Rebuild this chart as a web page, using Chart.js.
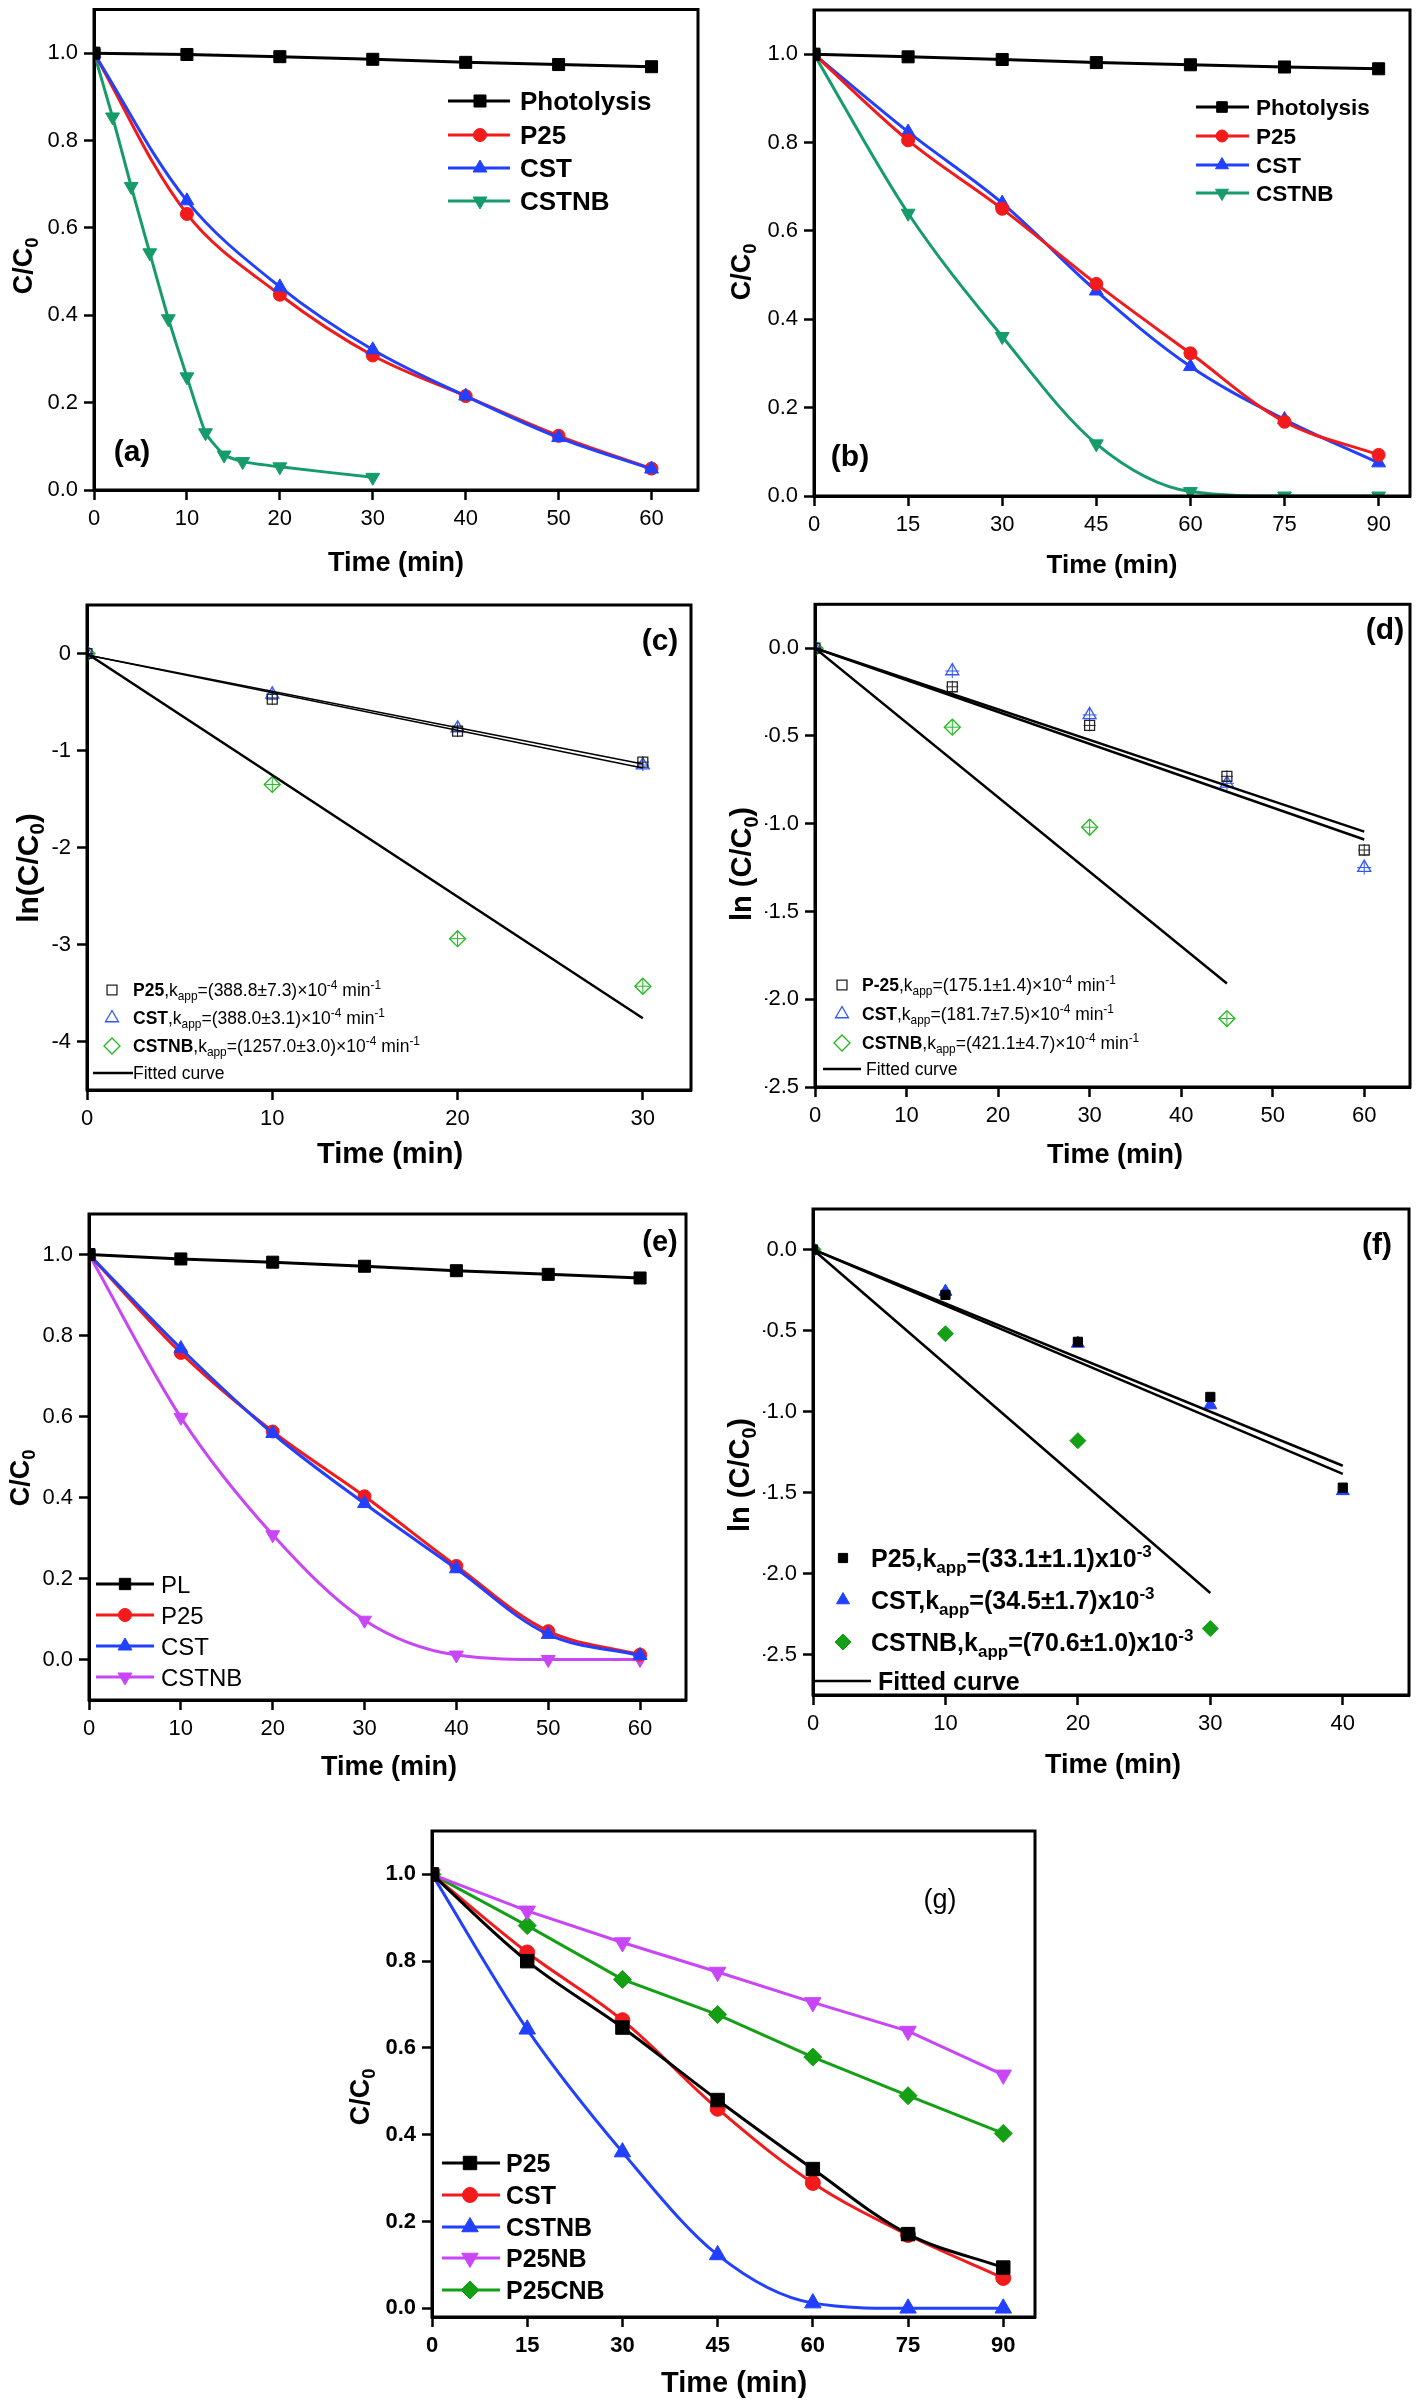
<!DOCTYPE html>
<html>
<head>
<meta charset="utf-8">
<script src="https://cdn.jsdelivr.net/npm/chart.js@4.4.1/dist/chart.umd.min.js"></script>
<style>
  body { margin: 0; background: #fff; width: 1421px; height: 2401px; position: relative; overflow: hidden; }
  canvas { position: absolute; }
</style>
</head>
<body>
<canvas id="pa"></canvas>
<canvas id="pb"></canvas>
<canvas id="pc"></canvas>
<canvas id="pd"></canvas>
<canvas id="pe"></canvas>
<canvas id="pf"></canvas>
<canvas id="pg"></canvas>
<script>
// ---------- data ----------
// (a)
const timeA = [0, 10, 20, 30, 40, 50, 60];
const photolysisA = [1.0, 0.997, 0.992, 0.986, 0.979, 0.974, 0.969];
const p25A = [1.0, 0.632, 0.447, 0.308, 0.215, 0.124, 0.049];
const cstA = [1.0, 0.662, 0.465, 0.321, 0.215, 0.120, 0.048];
const timeNbA = [0, 2, 4, 6, 8, 10, 12, 14, 16, 20, 30];
const cstnbA = [1.0, 0.854, 0.695, 0.543, 0.392, 0.259, 0.131, 0.080, 0.065, 0.053, 0.029];
// (b)
const timeB = [0, 15, 30, 45, 60, 75, 90];
const photolysisB = [1.0, 0.994, 0.988, 0.981, 0.976, 0.971, 0.967];
const p25B = [1.0, 0.805, 0.650, 0.480, 0.323, 0.168, 0.093];
const cstB = [1.0, 0.824, 0.663, 0.464, 0.293, 0.173, 0.075];
const cstnbB = [1.0, 0.640, 0.361, 0.118, 0.010, 0.0, 0.0];
// (c)
const timeC = [0, 10, 20, 30];
const p25C = [0, -0.47, -0.80, -1.12];
const cstC = [0, -0.42, -0.77, -1.15];
const cstnbC = [0, -1.35, -2.94, -3.43];
const fitTimeC = [0, 30];
const fitP25C = [-0.015, -1.14];
const fitCstC = [-0.015, -1.18];
const fitCstnbC = [0, -3.76];
// (d)
const timeD = [0, 15, 30, 45, 60];
const p25D = [0, -0.22, -0.44, -0.73, -1.15];
const cstD = [0, -0.13, -0.38, -0.77, -1.25];
const timeNbD = [0, 15, 30, 45];
const cstnbD = [0, -0.45, -1.02, -2.11];
const fitTimeD = [0, 60];
const fitP25D = [0, -1.045];
const fitCstD = [0, -1.09];
const fitTimeNbD = [0, 45];
const fitCstnbD = [0, -1.91];
// (e)
const timeE = [0, 10, 20, 30, 40, 50, 60];
const plE = [1.0, 0.989, 0.981, 0.971, 0.960, 0.951, 0.942];
const p25E = [1.0, 0.757, 0.563, 0.403, 0.231, 0.070, 0.012];
const cstE = [1.0, 0.768, 0.558, 0.385, 0.224, 0.062, 0.010];
const cstnbE = [1.0, 0.598, 0.308, 0.097, 0.011, 0.0, 0.0];
// (f)
const timeF = [0, 10, 20, 30, 40];
const p25F = [0, -0.28, -0.57, -0.91, -1.47];
const cstF = [0, -0.26, -0.58, -0.96, -1.49];
const timeNbF = [0, 10, 20, 30];
const cstnbF = [0, -0.52, -1.18, -2.34];
const fitTimeF = [0, 40];
const fitP25F = [0, -1.335];
const fitCstF = [0, -1.385];
const fitTimeNbF = [0, 30];
const fitCstnbF = [0, -2.12];
// (g)
const timeG = [0, 15, 30, 45, 60, 75, 90];
const p25G = [1.0, 0.800, 0.647, 0.480, 0.321, 0.171, 0.094];
const cstG = [1.0, 0.820, 0.664, 0.460, 0.289, 0.169, 0.070];
const cstnbG = [1.0, 0.643, 0.360, 0.123, 0.012, 0.0, 0.0];
const p25nbG = [1.0, 0.916, 0.843, 0.775, 0.705, 0.639, 0.538];
const p25cnbG = [1.0, 0.882, 0.758, 0.677, 0.579, 0.490, 0.403];

// tick labels
const ticksX60 = [0, 10, 20, 30, 40, 50, 60];
const ticksX90 = [0, 15, 30, 45, 60, 75, 90];
const ticksX30 = [0, 10, 20, 30];
const ticksX40 = [0, 10, 20, 30, 40];
const ticksRatio = [0, 0.2, 0.4, 0.6, 0.8, 1.0];
const ticksLnC = [0, -1, -2, -3, -4];
const ticksLnHalf = [0, -0.5, -1.0, -1.5, -2.0, -2.5];

// ---------- styling ----------
const FONT = "'Liberation Sans', Arial, Helvetica, sans-serif";
const RED = '#f21a1a';
const BLUE = '#2140ff';
const TEAL = '#169b6b';
const VIOLET = '#c846f5';
const GREEN = '#14a014';
const OPEN_GREEN = '#22b822';
const OPEN_BLUE = '#3355ff';
const CLEAR = 'rgba(0,0,0,0)';

function pts(xs, ys) {
    return xs.map((x, i) => ({ x: x, y: ys[i] }));
}

function curve(xs, ys, color, style, r, extra) {
    return Object.assign({
        data: pts(xs, ys),
        borderColor: color,
        backgroundColor: color,
        pointStyle: style,
        pointRadius: r,
        pointRotation: 0,
        pointBackgroundColor: color,
        pointBorderColor: color,
        pointBorderWidth: 1,
        borderWidth: 3,
        tension: 0
    }, extra || {});
}

const SMOOTH = { tension: 0.35 };
const MONO = { cubicInterpolationMode: 'monotone' };
const DOWN = { pointRotation: 180 };
const OPEN = { showLine: false, pointBackgroundColor: CLEAR, pointBorderWidth: 1.3 };

// thin cross drawn over the open symbols, like the error bars in (c) and (d)
function crossMarks(xs, ys, color, r) {
    return curve(xs, ys, color, 'cross', r, { showLine: false, pointBorderWidth: 1 });
}

function fitLine(xs, ys, w) {
    return curve(xs, ys, '#000', 'circle', 0, { borderWidth: w || 2.5 });
}

// rich text: segments of [text, flags]; b = bold, _ = subscript, ^ = superscript
function segFont(f, size) {
    const small = f.indexOf('_') >= 0 || f.indexOf('^') >= 0;
    const sz = small ? size * 0.68 : size;
    return (f.indexOf('b') >= 0 ? 'bold ' : '') + sz.toFixed(1) + 'px ' + FONT;
}

function drawRich(ctx, segs, x, cy, size, align) {
    let w = 0;
    segs.forEach(s => { ctx.font = segFont(s[1] || '', size); w += ctx.measureText(s[0]).width; });
    let cx = align === 'left' ? x : x - w / 2;
    const base = cy + size * 0.36;
    ctx.textAlign = 'left';
    ctx.textBaseline = 'alphabetic';
    segs.forEach(s => {
        const f = s[1] || '';
        ctx.font = segFont(f, size);
        let dy = 0;
        if (f.indexOf('_') >= 0) dy = size * 0.22;
        if (f.indexOf('^') >= 0) dy = -size * 0.4;
        ctx.fillText(s[0], cx, base + dy);
        cx += ctx.measureText(s[0]).width;
    });
}

function drawMarker(ctx, it, x, y) {
    ctx.save();
    ctx.strokeStyle = it.color;
    ctx.fillStyle = it.open ? CLEAR : it.color;
    ctx.lineWidth = it.open ? 1.3 : 1;
    Chart.helpers.drawPoint(ctx, { pointStyle: it.ps, rotation: it.rot || 0, radius: it.r, borderWidth: ctx.lineWidth }, x, y);
    ctx.restore();
}

// frame, titles, panel letter and legend
function decoPlugin(box, spec) {
    return {
        id: 'deco',
        afterDatasetsDraw(chart) {
            const ctx = chart.ctx;
            const a = chart.chartArea;
            ctx.save();
            ctx.strokeStyle = '#000';
            ctx.lineWidth = 3;
            ctx.strokeRect(a.left, a.top, a.right - a.left, a.bottom - a.top);
            ctx.fillStyle = '#000';

            spec.texts.forEach(t => {
                if (t.rot) {
                    ctx.save();
                    ctx.translate(t.x - box.x, t.y - box.y);
                    ctx.rotate(-Math.PI / 2);
                    drawRich(ctx, t.segs, 0, 0, t.size, 'center');
                    ctx.restore();
                } else {
                    drawRich(ctx, t.segs, t.x - box.x, t.y - box.y, t.size, 'center');
                }
            });

            const lg = spec.legend;
            lg.items.forEach((it, i) => {
                const y = lg.ys[i] - box.y;
                if (it.line) {
                    ctx.strokeStyle = it.color;
                    ctx.lineWidth = it.lw || 3;
                    ctx.beginPath();
                    ctx.moveTo(lg.x0 - box.x, y);
                    ctx.lineTo(lg.x1 - box.x, y);
                    ctx.stroke();
                }
                if (it.ps) drawMarker(ctx, it, lg.mx - box.x, y);
                ctx.fillStyle = '#000';
                drawRich(ctx, it.segs, (it.tx || lg.tx) - box.x, y, lg.size, 'left');
            });
            ctx.restore();
        }
    };
}

function makePanel(id, box, frame, xr, yr, xTicks, yTicks, yDec, tickBold, datasets, spec) {
    const cv = document.getElementById(id);
    cv.width = box.w;
    cv.height = box.h;
    cv.style.left = box.x + 'px';
    cv.style.top = box.y + 'px';
    const yw = 50, xh = 45;
    const tickFont = { family: FONT, size: 22, weight: tickBold ? 'bold' : 'normal' };
    const grid = { display: true, drawOnChartArea: false, drawTicks: true, tickLength: 10, tickWidth: 2.5, tickColor: '#000' };
    const border = { display: true, color: '#000', width: 3 };

    return new Chart(cv, {
        type: 'line',
        data: { datasets: datasets },
        options: {
            responsive: false,
            animation: false,
            devicePixelRatio: 1,
            events: [],
            layout: {
                padding: {
                    left: frame.L - box.x - yw,
                    top: frame.T - box.y,
                    right: box.x + box.w - frame.R,
                    bottom: box.y + box.h - frame.B - xh
                }
            },
            plugins: { legend: { display: false }, tooltip: { enabled: false } },
            scales: {
                x: {
                    type: 'linear', min: xr[0], max: xr[1],
                    afterBuildTicks: s => { s.ticks = xTicks.map(v => ({ value: v })); },
                    afterFit: s => { s.height = xh; s.paddingLeft = 0; s.paddingRight = 0; },
                    ticks: { autoSkip: false, maxRotation: 0, padding: 6, color: '#000', font: tickFont, callback: v => String(v) },
                    grid: grid, border: border
                },
                y: {
                    type: 'linear', min: yr[0], max: yr[1],
                    afterBuildTicks: s => { s.ticks = yTicks.map(v => ({ value: v })); },
                    afterFit: s => { s.width = yw; s.paddingTop = 0; s.paddingBottom = 0; },
                    ticks: { autoSkip: false, padding: 6, color: '#000', font: tickFont, callback: v => Number(v).toFixed(yDec) },
                    grid: grid, border: border
                }
            }
        },
        plugins: [decoPlugin(box, spec)]
    });
}

const C_TITLE = [['C/C', 'b'], ['0', 'b_']];
const TIME_TITLE = [['Time (min)', 'b']];
const LN_TITLE = [['ln(C/C', 'b'], ['0', 'b_'], [')', 'b']];
const LN_SP_TITLE = [['ln (C/C', 'b'], ['0', 'b_'], [')', 'b']];

function kLabel(name, val) {
    return [[name, 'b'], [',k'], ['app', '_'], ['=' + val + '\u00d710'], ['-4', '^'], [' min'], ['-1', '^']];
}
function kBold(name, val) {
    return [[name + ',k', 'b'], ['app', 'b_'], ['=' + val + 'x10', 'b'], ['-3', 'b^']];
}

// ---------- (a) ----------
makePanel('pa', { x: 0, y: 0, w: 710, h: 595 }, { L: 94, T: 5, R: 698, B: 490 },
    [0, 65], [0, 1.1], ticksX60, ticksRatio, 1, false,
    [
        curve(timeA, photolysisA, '#000', 'rect', 8.5),
        curve(timeA, cstA, BLUE, 'triangle', 8, SMOOTH),
        curve(timeA, p25A, RED, 'circle', 6.5, SMOOTH),
        curve(timeNbA, cstnbA, TEAL, 'triangle', 8, Object.assign({ tension: 0.15 }, DOWN))
    ],
    {
        texts: [
            { segs: C_TITLE, x: 22, y: 266, size: 27, rot: true },
            { segs: TIME_TITLE, x: 396, y: 561, size: 27 },
            { segs: [['(a)', 'b']], x: 132, y: 450, size: 30 }
        ],
        legend: {
            x0: 448, x1: 510, mx: 480, tx: 520, ys: [101, 135, 168, 201], size: 26,
            items: [
                { segs: [['Photolysis', 'b']], color: '#000', ps: 'rect', r: 8.5, line: true },
                { segs: [['P25', 'b']], color: RED, ps: 'circle', r: 6.5, line: true },
                { segs: [['CST', 'b']], color: BLUE, ps: 'triangle', r: 8, line: true },
                { segs: [['CSTNB', 'b']], color: TEAL, ps: 'triangle', r: 8, rot: 180, line: true }
            ]
        }
    });

// ---------- (b) ----------
makePanel('pb', { x: 710, y: 0, w: 711, h: 595 }, { L: 814, T: 10, R: 1410, B: 496 },
    [0, 95], [0, 1.1], ticksX90, ticksRatio, 1, false,
    [
        curve(timeB, photolysisB, '#000', 'rect', 8.5),
        curve(timeB, p25B, RED, 'circle', 6.5, SMOOTH),
        curve(timeB, cstB, BLUE, 'triangle', 8, SMOOTH),
        curve(timeB, cstnbB, TEAL, 'triangle', 8, Object.assign({}, MONO, DOWN))
    ],
    {
        texts: [
            { segs: C_TITLE, x: 740, y: 272, size: 27, rot: true },
            { segs: TIME_TITLE, x: 1112, y: 564, size: 26 },
            { segs: [['(b)', 'b']], x: 850, y: 455, size: 30 }
        ],
        legend: {
            x0: 1196, x1: 1249, mx: 1222, tx: 1256, ys: [107, 136, 165, 193], size: 22.5,
            items: [
                { segs: [['Photolysis', 'b']], color: '#000', ps: 'rect', r: 7.5, line: true },
                { segs: [['P25', 'b']], color: RED, ps: 'circle', r: 6, line: true },
                { segs: [['CST', 'b']], color: BLUE, ps: 'triangle', r: 7.5, line: true },
                { segs: [['CSTNB', 'b']], color: TEAL, ps: 'triangle', r: 7.5, rot: 180, line: true }
            ]
        }
    });

// ---------- (c) ----------
makePanel('pc', { x: 0, y: 595, w: 710, h: 590 }, { L: 87, T: 605, R: 691, B: 1090 },
    [0, 32.6], [-4.5, 0.5], ticksX30, ticksLnC, 0, false,
    [
        fitLine(fitTimeC, fitP25C, 1.6),
        fitLine(fitTimeC, fitCstC, 1.6),
        fitLine(fitTimeC, fitCstnbC, 2.5),
        curve(timeC, p25C, '#222', 'rect', 7, OPEN),
        crossMarks(timeC, p25C, '#222', 6),
        curve(timeC, cstC, OPEN_BLUE, 'triangle', 7.5, OPEN),
        crossMarks(timeC, cstC, OPEN_BLUE, 6),
        curve(timeC, cstnbC, OPEN_GREEN, 'rectRot', 8, OPEN),
        crossMarks(timeC, cstnbC, OPEN_GREEN, 7)
    ],
    {
        texts: [
            { segs: LN_TITLE, x: 27, y: 868, size: 30, rot: true },
            { segs: TIME_TITLE, x: 390, y: 1153, size: 29 },
            { segs: [['(c)', 'b']], x: 660, y: 639, size: 30 }
        ],
        legend: {
            x0: 93, x1: 133, mx: 112, tx: 133, ys: [990, 1018, 1046, 1073], size: 17.5,
            items: [
                { segs: kLabel('P25', '(388.8\u00b17.3)'), color: '#222', ps: 'rect', r: 7, open: true },
                { segs: kLabel('CST', '(388.0\u00b13.1)'), color: OPEN_BLUE, ps: 'triangle', r: 7.5, open: true },
                { segs: kLabel('CSTNB', '(1257.0\u00b13.0)'), color: OPEN_GREEN, ps: 'rectRot', r: 8, open: true },
                { segs: [['Fitted curve']], color: '#000', line: true, lw: 2.5 }
            ]
        }
    });

// ---------- (d) ----------
makePanel('pd', { x: 710, y: 595, w: 711, h: 590 }, { L: 815, T: 600, R: 1410, B: 1087 },
    [0, 65], [-2.5, 0.25], ticksX60, ticksLnHalf, 1, false,
    [
        fitLine(fitTimeD, fitP25D),
        fitLine(fitTimeD, fitCstD),
        fitLine(fitTimeNbD, fitCstnbD),
        curve(timeD, p25D, '#222', 'rect', 7, OPEN),
        crossMarks(timeD, p25D, '#222', 6),
        curve(timeD, cstD, OPEN_BLUE, 'triangle', 7.5, OPEN),
        crossMarks(timeD, cstD, OPEN_BLUE, 7),
        curve(timeNbD, cstnbD, OPEN_GREEN, 'rectRot', 8, OPEN),
        crossMarks(timeNbD, cstnbD, OPEN_GREEN, 7)
    ],
    {
        texts: [
            { segs: LN_SP_TITLE, x: 741, y: 864, size: 29, rot: true },
            { segs: TIME_TITLE, x: 1115, y: 1153, size: 27 },
            { segs: [['(d)', 'b']], x: 1385, y: 628, size: 30 }
        ],
        legend: {
            x0: 823, x1: 861, mx: 842, tx: 862, ys: [985, 1014, 1043, 1069], size: 17.5,
            items: [
                { segs: kLabel('P-25', '(175.1\u00b11.4)'), color: '#222', ps: 'rect', r: 7, open: true },
                { segs: kLabel('CST', '(181.7\u00b17.5)'), color: OPEN_BLUE, ps: 'triangle', r: 7.5, open: true },
                { segs: kLabel('CSTNB', '(421.1\u00b14.7)'), color: OPEN_GREEN, ps: 'rectRot', r: 8, open: true },
                { segs: [['Fitted curve']], color: '#000', line: true, lw: 2.5, tx: 866 }
            ]
        }
    });

// ---------- (e) ----------
makePanel('pe', { x: 0, y: 1185, w: 710, h: 605 }, { L: 89, T: 1214, R: 686, B: 1700 },
    [0, 65], [-0.1, 1.1], ticksX60, ticksRatio, 1, false,
    [
        curve(timeE, plE, '#000', 'rect', 8.5),
        curve(timeE, cstE, BLUE, 'triangle', 8, SMOOTH),
        curve(timeE, p25E, RED, 'circle', 6.5, SMOOTH),
        curve(timeE, cstnbE, VIOLET, 'triangle', 8, Object.assign({}, MONO, DOWN))
    ],
    {
        texts: [
            { segs: C_TITLE, x: 19, y: 1478, size: 27, rot: true },
            { segs: TIME_TITLE, x: 389, y: 1765, size: 27 },
            { segs: [['(e)', 'b']], x: 660, y: 1241, size: 29 }
        ],
        legend: {
            x0: 96, x1: 154, mx: 125, tx: 161, ys: [1584, 1615, 1646, 1677], size: 24,
            items: [
                { segs: [['PL']], color: '#000', ps: 'rect', r: 8, line: true },
                { segs: [['P25']], color: RED, ps: 'circle', r: 6.5, line: true },
                { segs: [['CST']], color: BLUE, ps: 'triangle', r: 8, line: true },
                { segs: [['CSTNB']], color: VIOLET, ps: 'triangle', r: 8, rot: 180, line: true }
            ]
        }
    });

// ---------- (f) ----------
makePanel('pf', { x: 710, y: 1185, w: 711, h: 605 }, { L: 813, T: 1209, R: 1409, B: 1695 },
    [0, 45], [-2.75, 0.25], ticksX40, ticksLnHalf, 1, false,
    [
        fitLine(fitTimeF, fitP25F),
        fitLine(fitTimeF, fitCstF),
        fitLine(fitTimeNbF, fitCstnbF),
        curve(timeF, p25F, '#000', 'rect', 6.5, { showLine: false }),
        curve(timeF, cstF, BLUE, 'triangle', 7.5, { showLine: false }),
        curve(timeNbF, cstnbF, GREEN, 'rectRot', 8, { showLine: false })
    ],
    {
        texts: [
            { segs: LN_SP_TITLE, x: 739, y: 1475, size: 29, rot: true },
            { segs: TIME_TITLE, x: 1113, y: 1763, size: 27 },
            { segs: [['(f)', 'b']], x: 1377, y: 1243, size: 30 }
        ],
        legend: {
            x0: 814, x1: 871, mx: 843, tx: 871, ys: [1558, 1600, 1642, 1681], size: 25,
            items: [
                { segs: kBold('P25', '(33.1\u00b11.1)'), color: '#000', ps: 'rect', r: 6.5 },
                { segs: kBold('CST', '(34.5\u00b11.7)'), color: BLUE, ps: 'triangle', r: 7.5 },
                { segs: kBold('CSTNB', '(70.6\u00b11.0)'), color: GREEN, ps: 'rectRot', r: 8 },
                { segs: [['Fitted curve', 'b']], color: '#000', line: true, lw: 2.5, tx: 878 }
            ]
        }
    });

// ---------- (g) ----------
makePanel('pg', { x: 330, y: 1790, w: 760, h: 611 }, { L: 432, T: 1831, R: 1035, B: 2317 },
    [0, 95], [-0.02, 1.1], ticksX90, ticksRatio, 1, true,
    [
        curve(timeG, p25G, '#000', 'rect', 9.5, SMOOTH),
        curve(timeG, cstG, RED, 'circle', 7.5, SMOOTH),
        curve(timeG, cstnbG, BLUE, 'triangle', 9.5, MONO),
        curve(timeG, p25nbG, VIOLET, 'triangle', 9.5, DOWN),
        curve(timeG, p25cnbG, GREEN, 'rectRot', 9)
    ],
    {
        texts: [
            { segs: C_TITLE, x: 359, y: 2097, size: 27, rot: true },
            { segs: TIME_TITLE, x: 734, y: 2382, size: 29 },
            { segs: [['(g)']], x: 940, y: 1898, size: 27 }
        ],
        legend: {
            x0: 442, x1: 500, mx: 470, tx: 506, ys: [2163, 2195, 2227, 2258, 2290], size: 25,
            items: [
                { segs: [['P25', 'b']], color: '#000', ps: 'rect', r: 9.5, line: true },
                { segs: [['CST', 'b']], color: RED, ps: 'circle', r: 7.5, line: true },
                { segs: [['CSTNB', 'b']], color: BLUE, ps: 'triangle', r: 9.5, line: true },
                { segs: [['P25NB', 'b']], color: VIOLET, ps: 'triangle', r: 9.5, rot: 180, line: true },
                { segs: [['P25CNB', 'b']], color: GREEN, ps: 'rectRot', r: 9, line: true }
            ]
        }
    });
</script>
</body>
</html>
